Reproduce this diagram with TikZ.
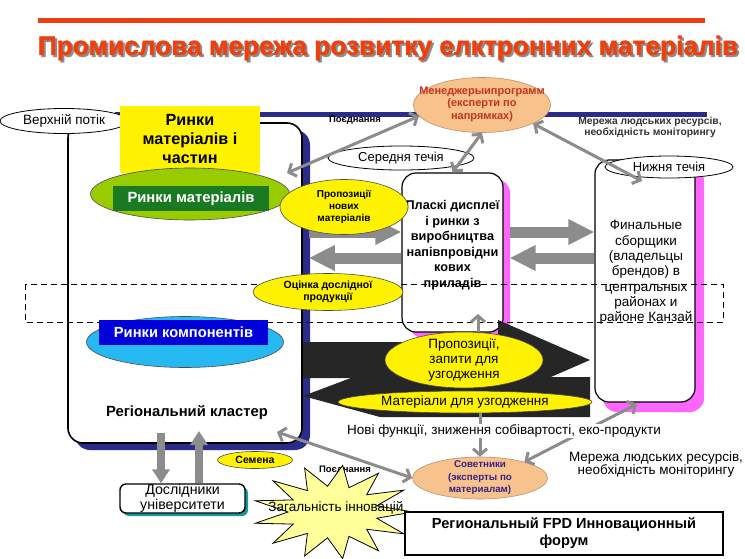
\documentclass[tikz,border=0pt]{standalone}
\usepackage{fontspec}
\setmainfont{Liberation Sans}
\newfontfamily\heavysans[BoldFeatures={FakeBold=1.6}]{Liberation Sans}
\usetikzlibrary{shapes.geometric,arrows.meta}
\definecolor{navy}{HTML}{2B2B8A}
\definecolor{titlered}{HTML}{EE400E}
\definecolor{arrowgray}{HTML}{8C8C8C}
\definecolor{peach}{HTML}{F8C28C}
\definecolor{lime}{HTML}{99CC00}
\definecolor{leafgreen}{HTML}{1A7A22}
\definecolor{pinkline}{HTML}{FF66FF}
\definecolor{tealshadow}{HTML}{139A9A}
\definecolor{paleyellow}{HTML}{FFFF99}
\definecolor{darkmass}{HTML}{262626}
\definecolor{mgrred}{HTML}{C8321E}
\definecolor{advblue}{HTML}{34228A}
\tikzset{
  oval/.style={ellipse,inner sep=0pt,align=center,draw=black!70,line width=0.6pt},
  yelloval/.style={oval,fill=yellow},
  peachoval/.style={oval,fill=peach,draw=peach!75!black},
  whiteoval/.style={oval,fill=white,draw=black,line width=0.8pt},
  linkarrow/.style={draw=arrowgray,line width=3pt,>={Straight Barb[length=6pt,width=14pt]}},
  blockarrow/.style={draw=arrowgray,line width=11pt,-{Triangle[length=26pt,width=24pt]}},
  stemarrow/.style={draw=arrowgray,line width=8pt,-{Triangle[length=14pt,width=17pt]}},
  smallbold/.style={font=\fontsize{10.5}{12}\selectfont\bfseries,align=center},
  body/.style={font=\fontsize{13.5}{15}\selectfont,align=center},
  roundbox/.style={draw,line width=1.2pt,fill=white,rounded corners=14pt},
}
\begin{document}
\begin{tikzpicture}[x=1pt,y=-1pt]
  \useasboundingbox (0,0) rectangle (745,558);
  % title
  \draw[titlered,line width=5pt] (38,20) -- (705,20);
  \node[font=\heavysans\fontsize{26.3}{30}\selectfont\bfseries,text=black!45] (titleshade) at (390,50) {Промислова мережа розвитку елктронних матеріалів};
  \node[font=\heavysans\fontsize{26.3}{30}\selectfont\bfseries,text=titlered] (title) at (388,48) {Промислова мережа розвитку елктронних матеріалів};
  \draw[navy,line width=5pt] (115,114) -- (707,114);

  % regional cluster
  \fill[navy,rounded corners=15pt] (75,130) rectangle (310,450);
  \node[draw,line width=1.6pt,fill=white,rounded corners=15pt,minimum width=234pt,minimum height=320pt] (cluster) at (185,283) {};

  % flat displays and final assemblers
  \fill[pinkline,rounded corners=14pt] (409,179) rectangle (510,338);
  \node[roundbox,minimum width=101pt,minimum height=159pt] (flatmkt) at (452.5,252.5) {};
  \node[font=\fontsize{12.7}{15.5}\selectfont\bfseries,align=center] (flattext) at (452.5,245) {Пласкі дисплеї\\і ринки з\\виробництва\\напівпровідни\\кових\\приладів};
  \fill[pinkline,rounded corners=14pt] (603,167) rectangle (704,412);
  \node[roundbox,minimum width=100pt,minimum height=242pt] (finals) at (645,281) {};
  \node[font=\fontsize{13.5}{15.3}\selectfont,align=center] (finaltext) at (646,272.5) {Финальные\\сборщики\\(владельцы\\брендов) в\\центральных\\районах и\\районе Канзай};

  \coordinate (feedA) at (0,232);
  \coordinate (feedB) at (0,258);
  \draw[blockarrow,shorten <=6pt] (cluster.east |- feedA) -- (flatmkt.west |- feedA);
  \draw[blockarrow,shorten >=6pt] (flatmkt.west |- feedB) -- (cluster.east |- feedB);
  \draw[blockarrow,shorten <=6pt] (flatmkt.east |- feedA) -- (finals.west |- feedA);
  \draw[blockarrow,shorten >=6pt] (finals.west |- feedB) -- (flatmkt.east |- feedB);

  % dark exchange arrows
  \fill[darkmass] (303,342) -- (498,342) -- (498,320) -- (590,360) -- (498,400) -- (498,378) -- (303,378) -- cycle;
  \fill[darkmass] (303,396) -- (420,352) -- (420,377) -- (590,377) -- (590,417) -- (380,417) -- cycle;

  \draw[dashed,dash pattern=on 6pt off 4pt,line width=1pt] (25,284) rectangle (723,322);

  % inside the cluster
  \node[whiteoval,minimum width=128pt,minimum height=25pt,body] (upstream) at (64,121) {Верхній потік};
  \node[fill=yellow,minimum width=140pt,minimum height=67pt,align=center,font=\fontsize{16.2}{19}\selectfont\bfseries] (partsmkt) at (190,139) {Ринки\\матеріалів і\\частин};
  \node[oval,fill=lime,minimum width=199pt,minimum height=52pt] (matoval) at (190,194) {};
  \node[fill=leafgreen,text=white,minimum width=156pt,minimum height=25pt,font=\fontsize{14.8}{16}\selectfont\bfseries] (matmkt) at (191,198.5) {Ринки матеріалів};
  \node[oval,fill=cyan!85,minimum width=197pt,minimum height=51pt] (compoval) at (185,342) {};
  \node[fill=blue!85!black,text=white,minimum width=169pt,minimum height=25pt,font=\fontsize{14.7}{16}\selectfont\bfseries] (compmkt) at (183.5,332.5) {Ринки компонентів};
  \node[font=\fontsize{14.8}{17}\selectfont\bfseries] (clustername) at (187,413) {Регіональний кластер};

  % ellipses
  \node[yelloval,minimum width=158pt,minimum height=56pt] (offers) at (464,360) {};
  \node[body] (offerstext) at (464,360) {Пропозиції,\\запити для\\узгодження};
  \node[yelloval,minimum width=254pt,minimum height=22pt,body] (mixes) at (465,402) {Матеріали для узгодження};
  \node[yelloval,minimum width=128pt,minimum height=55pt,smallbold,font=\fontsize{10}{12}\selectfont\bfseries] (newmat) at (344,207) {Пропозиції\\нових\\матеріалів};
  \node[yelloval,minimum width=150pt,minimum height=37pt,smallbold] (review) at (328,292) {Оцінка дослідної\\продукції};
  \node[whiteoval,minimum width=146pt,minimum height=24pt,body,font=\fontsize{13}{15}\selectfont] (midstream) at (401,158) {Середня течія};
  \node[whiteoval,minimum width=128pt,minimum height=22pt,body,font=\fontsize{13}{15}\selectfont] (downstream) at (669,167) {Нижня течія};
  \node[peachoval,minimum width=137pt,minimum height=55pt] (mgr) at (482,105) {};
  \node[font=\fontsize{11}{12.5}\selectfont\bfseries,text=mgrred,align=center] (mgrtext) at (482,104) {Менеджерыипрограмм\\(експерти по\\напрямках)};
  \node[peachoval,minimum width=135pt,minimum height=42pt] (adv) at (480,478) {};
  \node[font=\fontsize{9.8}{12.5}\selectfont\bfseries,text=advblue,align=center] (advtext) at (480,478) {Советники\\(эксперты по\\материалам)};
  \node[yelloval,minimum width=75pt,minimum height=17pt,smallbold] (seeds) at (255,460) {Семена};

  \node[smallbold,font=\fontsize{9.5}{11}\selectfont\bfseries] (jointop) at (355,120) {Поєднання};
  \node[smallbold,font=\fontsize{10.3}{11}\selectfont\bfseries,text=black!80] (hrtop) at (650,127) {Мережа людських ресурсів,\\необхідність моніторингу};
  \node[smallbold,font=\fontsize{9.5}{11}\selectfont\bfseries] (jointbottom) at (345,470) {Поєднання};

  % connectors
  \coordinate (joinA) at (287,173);
  \coordinate (lowtip) at (642,181);
  \coordinate (clusterfoot) at (277,432);
  \coordinate (finalfoot) at (637,404);
  \coordinate (flatcue) at (478,314);
  \draw[linkarrow,<->] (joinA) -- (mgr.190);
  \draw[linkarrow,<->] (mgr.south) -- (flatmkt.north);
  \draw[linkarrow,<->] (mgr.-20) -- (lowtip);
  \draw[linkarrow,<->] (clusterfoot) -- (adv.west);
  \draw[linkarrow,<->] (adv.20) -- (finalfoot);
  \draw[linkarrow,->] (mixes.south -| adv.north) -- (adv.north);
  \draw[linkarrow,->] (flatcue |- offers.north) -- (flatcue);

  \node[body,fill=white,inner sep=1pt] (newfeat) at (504,431) {Нові функції, зниження собівартості, еко-продукти};
  \node[body,fill=white,inner sep=1pt,font=\fontsize{13.5}{13}\selectfont] (hrbottom) at (656,465) {Мережа людських ресурсів,\\необхідність моніторингу};

  % research link
  \coordinate (downA) at (161,433);
  \coordinate (upA) at (199,431);
  \fill[tealshadow,rounded corners=6pt] (123,487) rectangle (248,516);
  \node[draw,line width=1.4pt,fill=white,rounded corners=6pt,minimum width=125pt,minimum height=29pt,inner sep=0pt,font=\fontsize{14.2}{14.5}\selectfont,align=center] (research) at (182.5,498.5) {Дослідники\\університети};
  \draw[stemarrow] (downA) -- (research.north -| downA);
  \draw[stemarrow] (research.north -| upA) -- (upA);

  % burst
  \filldraw[fill=paleyellow,draw=black,line width=0.8pt] (413,512)
    \foreach \k in {1,...,25}{ -- ({333+(isodd(\k)?45:80)*cos(\k*360/26)},{512+(isodd(\k)?26:47)*sin(\k*360/26)}) } -- cycle;
  \node[body] (spread) at (336,508) {Загальність інновацій};

  \node[draw,line width=1.2pt,fill=white,minimum width=318pt,minimum height=43pt,align=center,font=\fontsize{14.6}{17}\selectfont\bfseries] (forum) at (564,533.5) {Региональный FPD Инновационный\\форум};
\end{tikzpicture}
\end{document}
